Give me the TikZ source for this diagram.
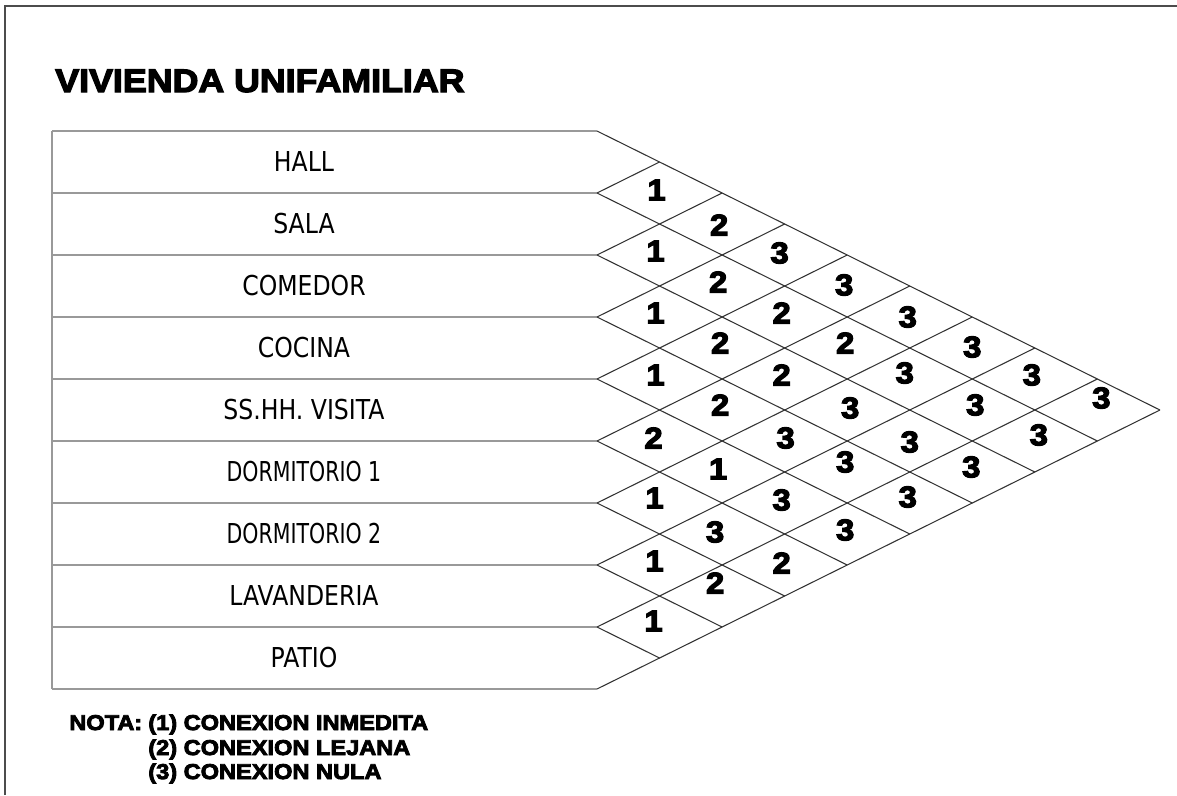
\documentclass[tikz,border=0pt]{standalone}
\usepackage{fontspec}
\setmainfont{DejaVu Sans}[FakeStretch=0.86]
\newfontfamily\heavyfont{Liberation Sans}[FakeBold=4,FakeStretch=1.1]
\usetikzlibrary{calc}

\begin{document}
\begin{tikzpicture}[
  x=0.02cm, y=-0.02cm,
  frame/.style={line width=1.2pt,black!70},
  tabline/.style={line width=0.6pt,black!40},
  gridline/.style={line width=0.6pt,black!80},
  room/.style={font=\fontsize{15.6}{18}\selectfont,inner sep=0pt},
  num/.style={font=\heavyfont\bfseries\fontsize{17}{18}\selectfont,inner sep=0pt},
  title/.style={font=\heavyfont\bfseries\fontsize{18.5}{22}\selectfont,inner sep=0pt,anchor=base west},
  note/.style={font=\heavyfont\bfseries\fontsize{12.2}{14}\selectfont,inner sep=0pt,anchor=base west}
]
\useasboundingbox (0,0) rectangle (1177,795);
\def\u{62.55}
% marco de la hoja
\draw[frame] (5,795) -- (5,6) -- (1177,6);
\node[title] (titulo) at (55,92) {VIVIENDA UNIFAMILIAR};
% tabla de ambientes
\foreach \k in {0,...,9} {
  \coordinate (a\k) at (52,{131+62*\k});
  \coordinate (b\k) at (597,{131+62*\k});
}
\draw[tabline] (a0) -- (a9);
\foreach \k in {0,...,9}
  \draw[tabline] (a\k) -- (b\k);
\foreach \name/\sq [count=\i from 0] in {HALL/1,SALA/1,COMEDOR/1,COCINA/1,SS.HH. VISITA/1,
    DORMITORIO 1/0.87,DORMITORIO 2/0.87,LAVANDERIA/1,PATIO/1}
  \node[room] (room\i) at (304,{162+62*\i}) {\scalebox{\sq}[1]{\name}};
% reticula diagonal
\foreach \k in {0,...,9} {
  \draw[gridline] (b\k) -- ++({(9-\k)*\u},{(9-\k)*31});
  \draw[gridline] (b\k) -- ++({\k*\u},{-\k*31});
}
% relaciones
\foreach \i/\j/\v/\dx/\dy in {
  0/1/1/-3/-3, 1/2/1/-4/-4, 2/3/1/-4/-4, 3/4/1/-4/-4, 4/5/2/-6/-3, 5/6/1/-5/-5, 6/7/1/-5/-4, 7/8/1/-6/-6,
  0/2/2/-3/1, 1/3/2/-4/-4, 2/4/2/-2/-5, 3/5/2/-2/-5, 4/6/1/-4/-3, 5/7/3/-7/-2, 6/8/2/-7/-13,
  0/3/3/-5/-2, 1/4/2/-3/-4, 2/5/2/-3/-4, 3/6/3/1/-3, 4/7/3/-3/-3, 5/8/2/-3/-2,
  0/4/3/-3/-1, 1/5/2/-2/-5, 2/6/3/3/-2, 3/7/3/-2/-10, 4/8/3/-2/-4,
  0/5/3/-2/0, 1/6/3/-5/-6, 2/7/3/0/1, 3/8/3/-2/-6,
  0/6/3/0/-1, 1/7/3/3/-5, 2/8/3/-1/-5,
  0/7/3/-3/-4, 1/8/3/4/-6,
  0/8/3/4/-12}
  \node[num] (n\i-\j) at ({597+(\j-\i)*\u+\dx},{131+31*(\i+\j+1)+\dy}) {\v};
% nota
\node[note] (nota) at (69,730) {NOTA:};
\node[note] (nota1) at (148,730) {(1) CONEXION INMEDITA};
\node[note] (nota2) at (148,755) {(2) CONEXION LEJANA};
\node[note] (nota3) at (148,779) {(3) CONEXION NULA};
\end{tikzpicture}
\end{document}
